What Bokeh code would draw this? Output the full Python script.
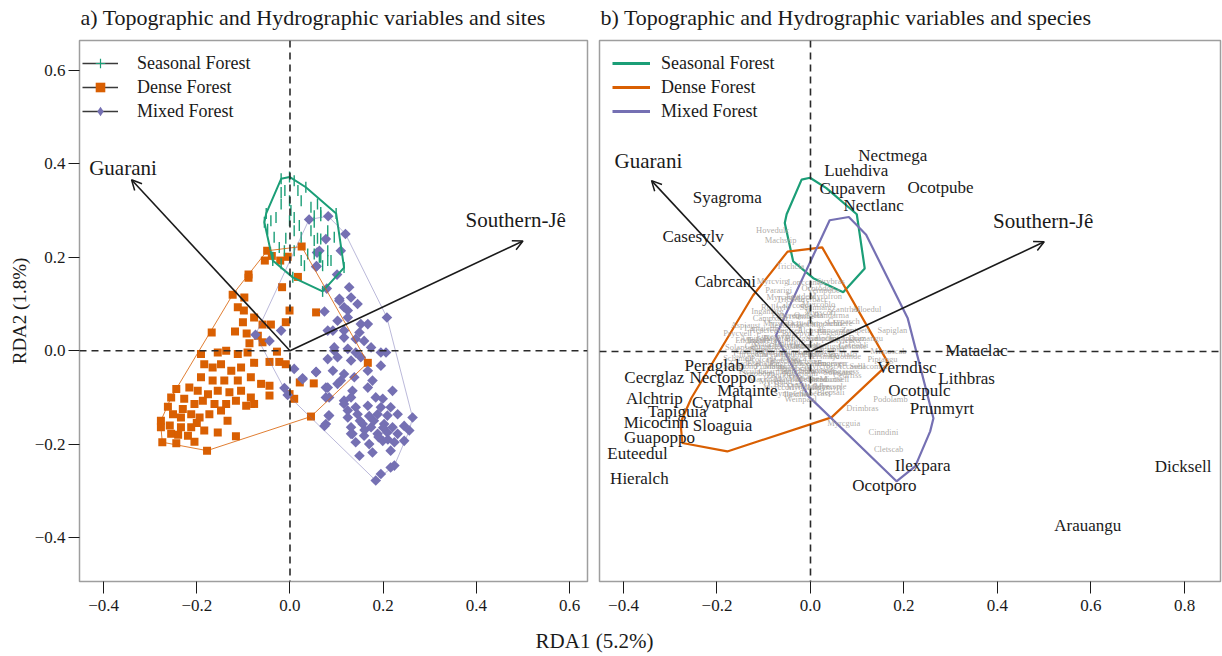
import numpy as np
from bokeh.plotting import figure
from bokeh.layouts import row, column
from bokeh.models import Span, Arrow, OpenHead, Legend, LegendItem, FixedTicker, ColumnDataSource
from bokeh.core.properties import value
from bokeh.embed import file_html
from bokeh.resources import INLINE

FONT = "Liberation Serif"

# ---------------- data ----------------
TITLES = ["a) Topographic and Hydrographic variables and sites",
          "b) Topographic and Hydrographic variables and species"]
GROUPS = ["Seasonal Forest", "Dense Forest", "Mixed Forest"]
COLORS = ["#1b9e77", "#d95f02", "#7570b3"]

SEASONAL = [(-0.019, 0.339), (-0.011, 0.343), (-0.001, 0.321), (0.017, 0.343), (0.024, 0.321),
            (-0.019, 0.314), (-0.041, 0.278), (-0.055, 0.275), (-0.030, 0.285), (-0.001, 0.278),
            (0.009, 0.285), (0.020, 0.268), (0.045, 0.307), (0.059, 0.314), (0.066, 0.296),
            (0.052, 0.275), (0.081, 0.257), (0.066, 0.239), (0.052, 0.236), (0.024, 0.243),
            (0.009, 0.257), (-0.009, 0.241), (-0.034, 0.243), (-0.048, 0.260), (-0.023, 0.221),
            (-0.012, 0.214), (0.009, 0.214), (0.038, 0.207), (0.063, 0.200), (0.081, 0.193),
            (0.024, 0.193), (-0.019, 0.186), (-0.037, 0.200), (0.031, 0.182), (0.002, 0.300),
            (0.095, 0.243), (0.034, 0.350), (0.052, 0.289), (0.066, 0.289), (0.045, 0.257),
            (0.059, 0.241), (0.081, 0.214), (0.088, 0.193), (0.066, 0.200), (0.052, 0.207),
            (0.070, 0.182), (-0.019, 0.368), (-0.001, 0.372), (0.009, 0.364), (0.099, 0.294),
            (0.116, 0.178), (0.070, 0.127), (0.006, 0.157), (-0.037, 0.193), (-0.051, 0.294)]

DENSE = [(-0.049, 0.214), (0.025, 0.223), (-0.054, 0.193), (-0.039, 0.203), (-0.021, 0.193),
         (-0.005, 0.201), (-0.089, 0.163), (-0.089, 0.156), (0.017, 0.158), (-0.017, 0.136),
         (-0.123, 0.120), (-0.098, 0.114), (-0.112, 0.093), (-0.099, 0.086), (-0.001, 0.086),
         (0.056, 0.082), (-0.077, 0.071), (-0.101, 0.061), (-0.059, 0.056), (-0.041, 0.056),
         (-0.009, 0.061), (-0.168, 0.039), (-0.118, 0.041), (-0.093, 0.037), (-0.087, 0.016),
         (-0.059, 0.018), (-0.069, 0.032), (-0.028, -0.002), (-0.191, -0.007), (-0.155, -0.004),
         (-0.137, 0.000), (-0.112, -0.007), (-0.091, -0.004), (-0.077, -0.026), (-0.044, -0.024),
         (-0.023, -0.024), (-0.009, -0.029), (-0.184, -0.029), (-0.166, -0.036), (-0.148, -0.029),
         (-0.126, -0.043), (-0.105, -0.036), (-0.191, -0.057), (-0.166, -0.064), (-0.141, -0.064),
         (-0.112, -0.064), (-0.084, -0.057), (-0.062, -0.071), (-0.044, -0.075), (-0.244, -0.082),
         (-0.216, -0.079), (-0.198, -0.086), (-0.176, -0.093), (-0.155, -0.086), (-0.130, -0.089),
         (-0.105, -0.086), (-0.255, -0.100), (-0.227, -0.103), (-0.205, -0.114), (-0.187, -0.107),
         (-0.162, -0.114), (-0.137, -0.114), (-0.116, -0.107), (-0.094, -0.118), (-0.077, -0.114),
         (-0.044, -0.096), (-0.001, -0.093), (0.021, -0.068), (0.009, -0.103), (-0.277, -0.150),
         (-0.277, -0.164), (-0.251, -0.136), (-0.234, -0.143), (-0.212, -0.136), (-0.194, -0.143),
         (-0.234, -0.164), (-0.212, -0.164), (-0.255, -0.178), (-0.219, -0.182), (-0.274, -0.196),
         (-0.244, -0.198), (-0.178, -0.214), (-0.155, -0.175), (-0.116, -0.183), (0.045, -0.141),
         (-0.184, -0.171), (-0.134, -0.150), (-0.173, -0.136), (-0.148, -0.128), (-0.084, -0.100),
         (0.167, -0.026), (0.051, -0.070), (-0.262, -0.120), (-0.230, -0.125), (-0.200, -0.155),
         (-0.258, -0.160), (-0.240, -0.180), (-0.205, -0.195)]

MIXED = [(0.041, 0.281), (0.082, 0.288), (0.119, 0.250), (0.077, 0.239), (0.109, 0.214),
         (0.063, 0.214), (0.057, 0.181), (0.101, 0.163), (0.079, 0.133), (0.127, 0.136),
         (0.106, 0.107), (0.074, 0.084), (0.124, 0.086), (0.102, 0.064), (-0.019, 0.043),
         (-0.074, 0.034), (-0.044, 0.021), (0.081, 0.043), (0.116, 0.028), (0.095, 0.000),
         (0.009, -0.039), (0.056, -0.046), (0.027, -0.059), (-0.012, -0.080), (0.081, -0.079),
         (0.109, -0.064), (0.084, -0.100), (-0.005, -0.095), (0.077, -0.157), (0.083, -0.139),
         (0.124, -0.128), (0.116, -0.107), (0.134, -0.178), (0.058, 0.210), (0.056, 0.180),
         (0.131, 0.114), (0.145, 0.100), (0.106, 0.111), (0.116, 0.093), (0.208, 0.071),
         (0.124, 0.071), (0.152, 0.057), (0.167, 0.057), (0.092, 0.043), (0.116, 0.043),
         (0.149, 0.039), (0.141, 0.025), (0.159, 0.021), (0.195, -0.004), (0.206, -0.004),
         (0.095, 0.007), (0.124, 0.004), (0.141, -0.004), (0.174, 0.007), (0.081, -0.018),
         (0.102, -0.014), (0.131, -0.021), (0.152, -0.014), (0.195, -0.032), (0.056, -0.045),
         (0.092, -0.043), (0.116, -0.050), (0.138, -0.057), (0.167, -0.043), (0.177, -0.064),
         (0.027, -0.061), (0.077, -0.079), (0.102, -0.071), (0.220, -0.086), (0.134, -0.086),
         (0.167, -0.079), (0.077, -0.100), (0.131, -0.100), (0.184, -0.100), (0.199, -0.103),
         (0.116, -0.114), (0.141, -0.121), (0.167, -0.118), (0.195, -0.121), (0.216, -0.121),
         (0.084, -0.139), (0.124, -0.143), (0.145, -0.136), (0.188, -0.136), (0.209, -0.139),
         (0.231, -0.136), (0.263, -0.143), (0.074, -0.161), (0.131, -0.164), (0.156, -0.157),
         (0.174, -0.164), (0.202, -0.157), (0.220, -0.164), (0.245, -0.161), (0.131, -0.178),
         (0.159, -0.182), (0.188, -0.178), (0.209, -0.175), (0.231, -0.178), (0.256, -0.171),
         (0.141, -0.196), (0.170, -0.200), (0.199, -0.193), (0.224, -0.196), (0.245, -0.193),
         (0.149, -0.225), (0.177, -0.218), (0.216, -0.214), (0.224, -0.246), (0.195, -0.264),
         (0.184, -0.278), (0.216, -0.250), (0.180, -0.150), (0.200, -0.165), (0.160, -0.170),
         (0.190, -0.185), (0.210, -0.190), (0.170, -0.140), (0.150, -0.150)]

VAR_NAMES = ["Guarani", "Southern-Jê"]
VAR_X = [-0.340, 0.500]
VAR_Y = [0.366, 0.235]

SPECIES_MAIN = ["Nectmega", "Luehdiva", "Cupavern", "Ocotpube", "Nectlanc", "Syagroma", "Casesylv",
                "Cabrcani", "Mataclac", "Verndisc", "Lithbras", "Ocotpulc", "Prunmyrt", "Peraglab",
                "Cecrglaz", "Nectoppo", "Alchtrip", "Matainte", "Cyatphal", "Tapiguia", "Micocinn",
                "Sloaguia", "Guapoppo", "Euteedul", "Hieralch", "Ilexpara", "Ocotporo", "Dicksell",
                "Arauangu"]
SPECIES_MAIN_X = [0.176, 0.098, 0.090, 0.278, 0.135, -0.178, -0.251, -0.182, 0.355, 0.206, 0.334,
                  0.233, 0.281, -0.206, -0.334, -0.188, -0.334, -0.135, -0.188, -0.285, -0.330,
                  -0.188, -0.323, -0.370, -0.366, 0.240, 0.158, 0.797, 0.593]
SPECIES_MAIN_Y = [0.420, 0.388, 0.349, 0.351, 0.313, 0.330, 0.246, 0.150, 0.002, -0.034, -0.058,
                  -0.084, -0.122, -0.030, -0.056, -0.056, -0.101, -0.084, -0.109, -0.128, -0.152,
                  -0.158, -0.184, -0.218, -0.272, -0.244, -0.287, -0.246, -0.373]

SPECIES_MINOR = ["Hovedulc", "Machstip", "Trichcla", "Myrcvirg", "Ocotodor", "Myrceuos", "Zantrhoi",
                 "Alloedul", "Ingamarg", "Crypasch", "Sapiglan", "Aspiaust", "Psycvell", "Drimangu",
                 "Ingavera", "Caseobli", "Mimoscab", "Piptangu", "Accasell", "Sebacomm", "Cedrfiss",
                 "Myrcsple", "Blepsali", "Ilexthee", "Weinpaul", "Podolamb", "Drimbras", "Myrcguia",
                 "Cinndini", "Cletscab",
                 "Campxant", "Myrsumbe", "Myrscori", "Schitere", "Lamatern", "Ilexdumo", "Ilexmicr",
                 "Eugeunif", "Eugeinvo", "Eugepyri", "Sympunif", "Stylepro", "Xylocili", "Dalbfrut",
                 "Jacapube", "Jacamicr", "Gochpoly", "Citrpani", "Vitemega", "Persmajo", "Ocotinde",
                 "Ocotcath", "Ocotcorm", "Nectgran", "Annorugu", "Prunbras", "Roupbras", "Solamaur",
                 "Solasanc", "Sorobonp", "Zantklei", "Mataelae", "Banatome", "Baccsemi", "Myrchebe",
                 "Myrcpalu", "Myrcoblo", "Calyconc", "Erytdeci", "Myrofron", "Pararigi", "Lonccamp",
                 "Strybras", "Sebabras", "Casedeca", "Caselasi", "Styracam", "Maytaqui", "Myrcrost",
                 "Rudgjasm", "Cordecal", "Endlpani",
                 "Acacrecu", "Aegisell", "Alchsidi", "Annoemar", "Aspipoly", "Bauhforf", "Brosgaud",
                 "Calocane", "Campguaz", "Campreit", "Casealat", "Cedrodor", "Celtigua", "Cestinte",
                 "Chrygono", "Chrymarg", "Coutmeli", "Cupaemar", "Erytfalc", "Esencune", "Eugeburk",
                 "Eugehiem", "Eugeverr", "Ficuluts", "Guarmacr", "Helidumo", "Ilexbrev", "Ingasess",
                 "Machpara", "Maytilic", "Meliazed", "Micosell", "Myrccori", "Myrclasi", "Myrcmyrt",
                 "Myrslore", "Ocotsilv", "Ormoarbo", "Picrcren", "Quilbras", "Randarma", "Rollsylv",
                 "Sapimarg", "Schimoll", "Sloamono", "Solapseu", "Sympteno", "Tabecass", "Trichele",
                 "Urerbacc", "Vernpube", "Zantpett"]
SPECIES_MINOR_X = [-0.081, -0.064, -0.043, -0.081, 0.015, -0.058, 0.075, 0.120, -0.092, 0.071,
                   0.175, -0.139, -0.156, 0.118, -0.103, 0.092, 0.167, 0.154, 0.086, 0.124,
                   0.079, 0.043, 0.043, -0.028, -0.021, 0.171, 0.111, 0.071, 0.156, 0.167,
                   -0.086, -0.032, 0.021, 0.060, -0.107, -0.053, 0.000, 0.047, -0.081, -0.028,
                   0.026, 0.075, -0.096, -0.047, -0.004, 0.043, -0.124, -0.073, -0.021, 0.028,
                   0.075, -0.107, -0.058, -0.009, 0.039, -0.086, -0.036, 0.011, 0.060, -0.111,
                   -0.064, -0.015, 0.032, -0.043, 0.004, -0.075, 0.017, -0.039, -0.021, 0.032,
                   -0.068, -0.011, 0.043, -0.096, -0.043, 0.004, -0.032, -0.064, 0.021, -0.021,
                   -0.139, -0.128,
                   -0.096, -0.047, 0.002, 0.051, -0.118, -0.068, -0.019, 0.030, 0.079, -0.107,
                   -0.058, -0.009, 0.041, 0.090, -0.128, -0.079, -0.030, 0.019, 0.068, -0.101,
                   -0.051, -0.002, 0.047, -0.124, -0.075, -0.026, 0.024, 0.073, -0.096, -0.047,
                   0.002, 0.051, -0.068, -0.019, 0.030, -0.068, -0.019, 0.030, -0.053, -0.004,
                   0.045, -0.075, 0.011, -0.154, -0.150, -0.150, -0.043, 0.011, -0.043, 0.004,
                   0.028, 0.096]
SPECIES_MINOR_Y = [0.261, 0.238, 0.184, 0.150, 0.135, 0.116, 0.092, 0.092, 0.086, 0.066,
                   0.047, 0.056, 0.039, 0.030, 0.024, 0.015, 0.002, -0.015, -0.030, -0.030,
                   -0.051, -0.073, -0.086, -0.090, -0.101, -0.101, -0.122, -0.154, -0.173, -0.208,
                   0.071, 0.077, 0.084, 0.062, 0.051, 0.056, 0.058, 0.041, 0.034, 0.039,
                   0.030, 0.024, 0.017, 0.021, 0.013, 0.006, 0.002, 0.000, -0.002, -0.009,
                   -0.009, -0.015, -0.019, -0.021, -0.024, -0.032, -0.036, -0.039, -0.043, -0.047,
                   -0.051, -0.056, -0.058, -0.069, -0.073, -0.064, 0.101, 0.099, 0.118, 0.118,
                   0.131, 0.148, 0.152, 0.006, -0.013, 0.002, 0.013, -0.030, -0.030, -0.045,
                   -0.024, 0.024,
                   0.045, 0.045, 0.045, 0.045, 0.028, 0.028, 0.028, 0.028, 0.028, 0.011,
                   0.011, 0.011, 0.011, 0.011, -0.006, -0.006, -0.006, -0.006, -0.006, -0.024,
                   -0.024, -0.024, -0.024, -0.041, -0.041, -0.041, -0.041, -0.041, -0.058, -0.058,
                   -0.058, -0.058, -0.075, -0.075, -0.075, 0.062, 0.062, 0.062, 0.079, 0.079,
                   0.079, 0.096, 0.096, -0.013, -0.030, 0.009, -0.088, -0.088, 0.113, 0.113,
                   0.131, 0.045]

X_TICKS_A = [-0.4, -0.2, 0.0, 0.2, 0.4, 0.6]
X_LABELS_A = ["\u22120.4", "\u22120.2", "0.0", "0.2", "0.4", "0.6"]
X_TICKS_B = [-0.4, -0.2, 0.0, 0.2, 0.4, 0.6, 0.8]
X_LABELS_B = ["\u22120.4", "\u22120.2", "0.0", "0.2", "0.4", "0.6", "0.8"]
Y_TICKS = [-0.4, -0.2, 0.0, 0.2, 0.4, 0.6]
Y_LABELS = ["\u22120.4", "\u22120.2", "0.0", "0.2", "0.4", "0.6"]


def convex_hull(pts):
    P = sorted(set(pts))

    def cross(o, a, b):
        return (a[0] - o[0]) * (b[1] - o[1]) - (a[1] - o[1]) * (b[0] - o[0])
    lower, upper = [], []
    for q in P:
        while len(lower) >= 2 and cross(lower[-2], lower[-1], q) <= 0:
            lower.pop()
        lower.append(q)
    for q in reversed(P):
        while len(upper) >= 2 and cross(upper[-2], upper[-1], q) <= 0:
            upper.pop()
        upper.append(q)
    h = lower[:-1] + upper[:-1]
    return [q[0] for q in h], [q[1] for q in h]


SETS = [SEASONAL, DENSE, MIXED]
HULLS = [convex_hull(s) for s in SETS]

AXIS_GREY = "#9e9e9e"
INK = "#1a1a1a"
OFF = [-9.0, -8.0]   # off-frame anchor for legend-only renderers


def style(p, xticks, xlabels, show_y):
    p.grid.visible = False
    p.outline_line_color = AXIS_GREY
    p.outline_line_width = 1.5
    for ax in p.xaxis:
        ax.ticker = FixedTicker(ticks=xticks)
        ax.major_label_overrides = dict(zip(xticks, xlabels))
    for ax in p.axis:
        ax.axis_line_color = None
        ax.minor_tick_line_color = None
        ax.major_tick_in = 0
        ax.major_tick_out = 12
        ax.major_tick_line_color = INK
        ax.major_label_text_font = FONT
        ax.major_label_text_font_size = "17px"
        ax.major_label_text_color = INK
        ax.axis_label_text_font = FONT
        ax.axis_label_text_font_style = "normal"
        ax.axis_label_text_font_size = "19px"
        ax.axis_label_text_color = INK
    p.xaxis.major_label_standoff = 6
    if show_y:
        p.yaxis.ticker = FixedTicker(ticks=Y_TICKS)
        p.yaxis.major_label_overrides = dict(zip(Y_TICKS, Y_LABELS))
        p.yaxis.major_label_standoff = 3
        p.yaxis.major_tick_out = 11
        p.yaxis.axis_label = "RDA2 (1.8%)"
        p.yaxis.axis_label_standoff = 2
    else:
        p.yaxis.visible = False
    p.add_layout(Span(location=0, dimension="height", line_dash="7 5", line_color="#2a2a2a", line_width=1.6))
    p.add_layout(Span(location=0, dimension="width", line_dash="7 5", line_color="#2a2a2a", line_width=1.6))


def add_arrows(p, label_pos):
    src = ColumnDataSource(dict(x0=[0.0] * len(VAR_X), y0=[0.0] * len(VAR_Y), x1=VAR_X, y1=VAR_Y))
    p.add_layout(Arrow(end=OpenHead(size=10, line_width=1.5, line_color=INK), source=src,
                       x_start="x0", y_start="y0", x_end="x1", y_end="y1",
                       line_color=INK, line_width=1.6))
    for name, (lx, ly, al) in zip(VAR_NAMES, label_pos):
        p.text(x=[lx], y=[ly], text=[name], text_font=value(FONT), text_font_size="21px",
               text_align=al, text_baseline="middle", text_color=INK)


def make_legend(items, vx, glyph_w, standoff):
    return Legend(items=items, location=(vx, 458), margin=0, padding=2, spacing=0,
                  glyph_width=glyph_w, glyph_height=24, label_height=24, label_standoff=standoff,
                  label_text_font=FONT, label_text_font_size="18px", label_text_color=INK,
                  label_text_baseline="middle",
                  border_line_color=None, background_fill_alpha=0)


# ---------------- title strip ----------------
p0 = figure(width=1222, height=38, x_range=(0, 1222), y_range=(0, 38),
            x_axis_type=None, y_axis_type=None, min_border=0,
            output_backend="svg", toolbar_location=None)
p0.outline_line_color = None
p0.grid.visible = False
p0.text(x=[80, 600], y=[21, 21], text=TITLES, text_font=value(FONT), text_font_size="22px",
        text_align="left", text_baseline="middle", text_color=INK)

# ---------------- panel a ----------------
p1 = figure(x_range=(-0.4517, 0.6384), y_range=(-0.4942, 0.6642),
            frame_width=508, frame_height=541, min_border_left=79, min_border_right=6,
            min_border_top=2, min_border_bottom=39,
            output_backend="svg", toolbar_location=None, background_fill_color="white")
style(p1, X_TICKS_A, X_LABELS_A, True)

r_dense = p1.scatter([q[0] for q in DENSE], [q[1] for q in DENSE], marker="square", size=8,
                     color=COLORS[1], line_width=0)
r_mixed = p1.scatter([q[0] for q in MIXED], [q[1] for q in MIXED], marker="square", angle=np.pi / 4,
                     size=7.5, color=COLORS[2], line_width=0)
r_seas = p1.scatter([q[0] for q in SEASONAL], [q[1] for q in SEASONAL], marker="dash", angle=np.pi / 2,
                    size=11, line_color=COLORS[0], line_width=1.4)
hull_w_a = [2.0, 0.9, 0.7]
hull_a_a = [1.0, 0.9, 0.7]
for (hx, hy), c, w, a in zip(HULLS, COLORS, hull_w_a, hull_a_a):
    p1.patch(hx, hy, fill_color=None, line_color=c, line_width=w, line_alpha=a)
add_arrows(p1, [(-0.431, 0.392, "left"), (0.592, 0.279, "right")])

leg_lines = [p1.line(x=OFF, y=OFF, line_color="#3a3a3a", line_width=1.5) for _ in GROUPS]
leg_seas = p1.scatter(x=OFF, y=OFF, marker="cross", size=8, line_color=COLORS[0], line_width=1.2)
leg_mixed = p1.scatter(x=OFF, y=OFF, marker="diamond", size=8, color=COLORS[2], line_width=0)
items_a = [LegendItem(label=GROUPS[0], renderers=[leg_lines[0], leg_seas]),
           LegendItem(label=GROUPS[1], renderers=[leg_lines[1], r_dense]),
           LegendItem(label=GROUPS[2], renderers=[leg_lines[2], leg_mixed])]
p1.add_layout(make_legend(items_a, 3, 36, 19))

# ---------------- panel b ----------------
p2 = figure(x_range=(-0.4513, 0.877), y_range=(-0.4925, 0.666),
            frame_width=621, frame_height=541, min_border_left=6, min_border_right=2,
            min_border_top=2, min_border_bottom=39,
            output_backend="svg", toolbar_location=None, background_fill_color="white")
style(p2, X_TICKS_B, X_LABELS_B, False)

for (hx, hy), c in zip(HULLS, COLORS):
    p2.patch(hx, hy, fill_color=None, line_color=c, line_width=2.2)
p2.text(x=SPECIES_MINOR_X, y=SPECIES_MINOR_Y, text=SPECIES_MINOR, text_font=value(FONT),
        text_font_size="8.5px", text_color="#a19c98", text_alpha=0.85,
        text_align="center", text_baseline="middle")
p2.text(x=SPECIES_MAIN_X, y=SPECIES_MAIN_Y, text=SPECIES_MAIN, text_font=value(FONT),
        text_font_size="17px", text_color=INK, text_align="center", text_baseline="middle")
add_arrows(p2, [(-0.419, 0.409, "left"), (0.605, 0.280, "right")])

leg_lines_b = [p2.line(x=OFF, y=OFF, line_color=c, line_width=3) for c in COLORS]
items_b = [LegendItem(label=g, renderers=[r]) for g, r in zip(GROUPS, leg_lines_b)]
p2.add_layout(make_legend(items_b, 13, 38, 11))

# ---------------- shared x label ----------------
p3 = figure(width=1222, height=36, x_range=(0, 1222), y_range=(0, 36),
            x_axis_type=None, y_axis_type=None, min_border=0,
            output_backend="svg", toolbar_location=None)
p3.outline_line_color = None
p3.grid.visible = False
p3.text(x=[594], y=[16], text=["RDA1 (5.2%)"], text_font=value(FONT), text_font_size="21px",
        text_align="center", text_baseline="middle", text_color=INK)

layout = column(p0, row(p1, p2), p3)
open("out.html", "w").write(file_html(layout, INLINE, title="RDA biplots"))
